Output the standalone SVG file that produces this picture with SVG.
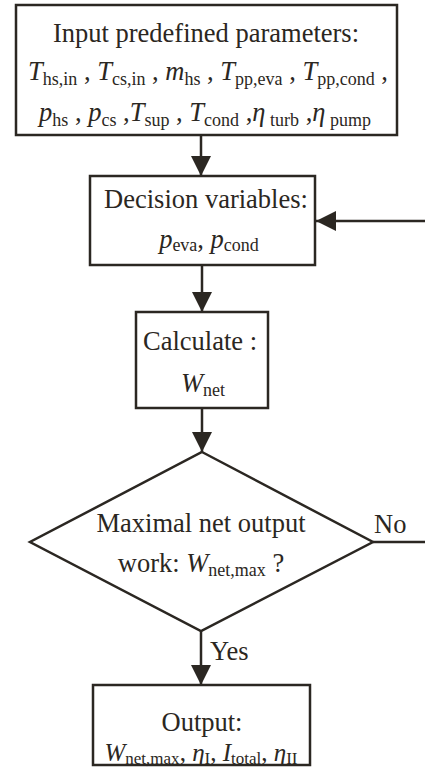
<svg xmlns="http://www.w3.org/2000/svg" width="425" height="768" viewBox="0 0 425 768">
<style>
.box{fill:#fff;stroke:#2b2722;stroke-width:2.5}
.ln{fill:none;stroke:#2b2722;stroke-width:2.5}
text{font-family:"Liberation Serif","Times New Roman",serif;font-size:26.5px;fill:#2b2722}
.i{font-style:italic}
.s{font-size:18px;font-style:normal}
</style>
<defs>
<marker id="ah" markerUnits="userSpaceOnUse" markerWidth="22" markerHeight="22" refX="20" refY="10" orient="auto">
<path d="M0,0 L20,10 L0,20 Z" fill="#2b2722"/>
</marker>
</defs>
<rect width="425" height="768" fill="#fff"/>
<g id="connectors">
<line class="ln" x1="201" y1="135" x2="201" y2="176" marker-end="url(#ah)"/>
<line class="ln" x1="202" y1="265" x2="202" y2="312" marker-end="url(#ah)"/>
<line class="ln" x1="202" y1="408" x2="202" y2="452" marker-end="url(#ah)"/>
<line class="ln" x1="201" y1="631" x2="201" y2="685" marker-end="url(#ah)"/>
<path class="ln" d="M373,542 H427 V221 H316" marker-end="url(#ah)"/>
<text x="374" y="533">No</text>
<text x="210" y="660">Yes</text>
</g>
<g id="input">
<rect class="box" x="16" y="5" width="381" height="130"/>
<text x="206" y="42" text-anchor="middle">Input predefined parameters:</text>
<text x="208" y="80" text-anchor="middle"><tspan class="i">T</tspan><tspan class="s" dy="5">hs,in</tspan><tspan dy="-5"> , </tspan><tspan class="i">T</tspan><tspan class="s" dy="5">cs,in</tspan><tspan dy="-5"> , </tspan><tspan class="i">m</tspan><tspan class="s" dy="5">hs</tspan><tspan dy="-5"> , </tspan><tspan class="i">T</tspan><tspan class="s" dy="5">pp,eva</tspan><tspan dy="-5"> , </tspan><tspan class="i">T</tspan><tspan class="s" dy="5">pp,cond</tspan><tspan dy="-5"> ,</tspan></text>
<text x="205" y="121" text-anchor="middle"><tspan class="i">p</tspan><tspan class="s" dy="5">hs</tspan><tspan dy="-5"> , </tspan><tspan class="i">p</tspan><tspan class="s" dy="5">cs</tspan><tspan dy="-5"> ,</tspan><tspan class="i">T</tspan><tspan class="s" dy="5">sup</tspan><tspan dy="-5"> , </tspan><tspan class="i">T</tspan><tspan class="s" dy="5">cond</tspan><tspan dy="-5"> ,</tspan><tspan class="i">η</tspan><tspan class="s" dy="5"> turb</tspan><tspan dy="-5"> ,</tspan><tspan class="i">η</tspan><tspan class="s" dy="5"> pump</tspan></text>
</g>
<g id="decision-vars">
<rect class="box" x="90" y="176" width="225" height="89"/>
<text x="206" y="208" text-anchor="middle">Decision variables:</text>
<text x="209" y="248" text-anchor="middle"><tspan class="i">p</tspan><tspan class="s" dy="3">eva</tspan><tspan dy="-3">, </tspan><tspan class="i">p</tspan><tspan class="s" dy="3">cond</tspan></text>
</g>
<g id="calculate">
<rect class="box" x="136" y="312" width="132" height="96"/>
<text x="200" y="350" text-anchor="middle">Calculate :</text>
<text x="203" y="392" text-anchor="middle"><tspan class="i">W</tspan><tspan class="s" dy="4">net</tspan></text>
</g>
<g id="check">
<path class="box" d="M202,452 L373,542 L201,631 L30,542 Z"/>
<text x="201" y="532" text-anchor="middle">Maximal net output</text>
<text x="201" y="572" text-anchor="middle">work: <tspan class="i">W</tspan><tspan class="s" dy="4">net,max</tspan><tspan dy="-4"> ?</tspan></text>
</g>
<g id="output">
<rect class="box" x="93" y="685" width="217" height="80"/>
<text x="202" y="731" text-anchor="middle">Output:</text>
<text x="201" y="761" text-anchor="middle" style="font-size:25px"><tspan class="i">W</tspan><tspan class="s" style="font-size:17px" dy="3">net,max</tspan><tspan dy="-3">,  </tspan><tspan class="i">η</tspan><tspan class="s" style="font-size:17px" dy="3">I</tspan><tspan dy="-3">, </tspan><tspan class="i">I</tspan><tspan class="s" style="font-size:17px" dy="3">total</tspan><tspan dy="-3">,  </tspan><tspan class="i">η</tspan><tspan class="s" style="font-size:17px" dy="3">II</tspan></text>
</g>
</svg>
